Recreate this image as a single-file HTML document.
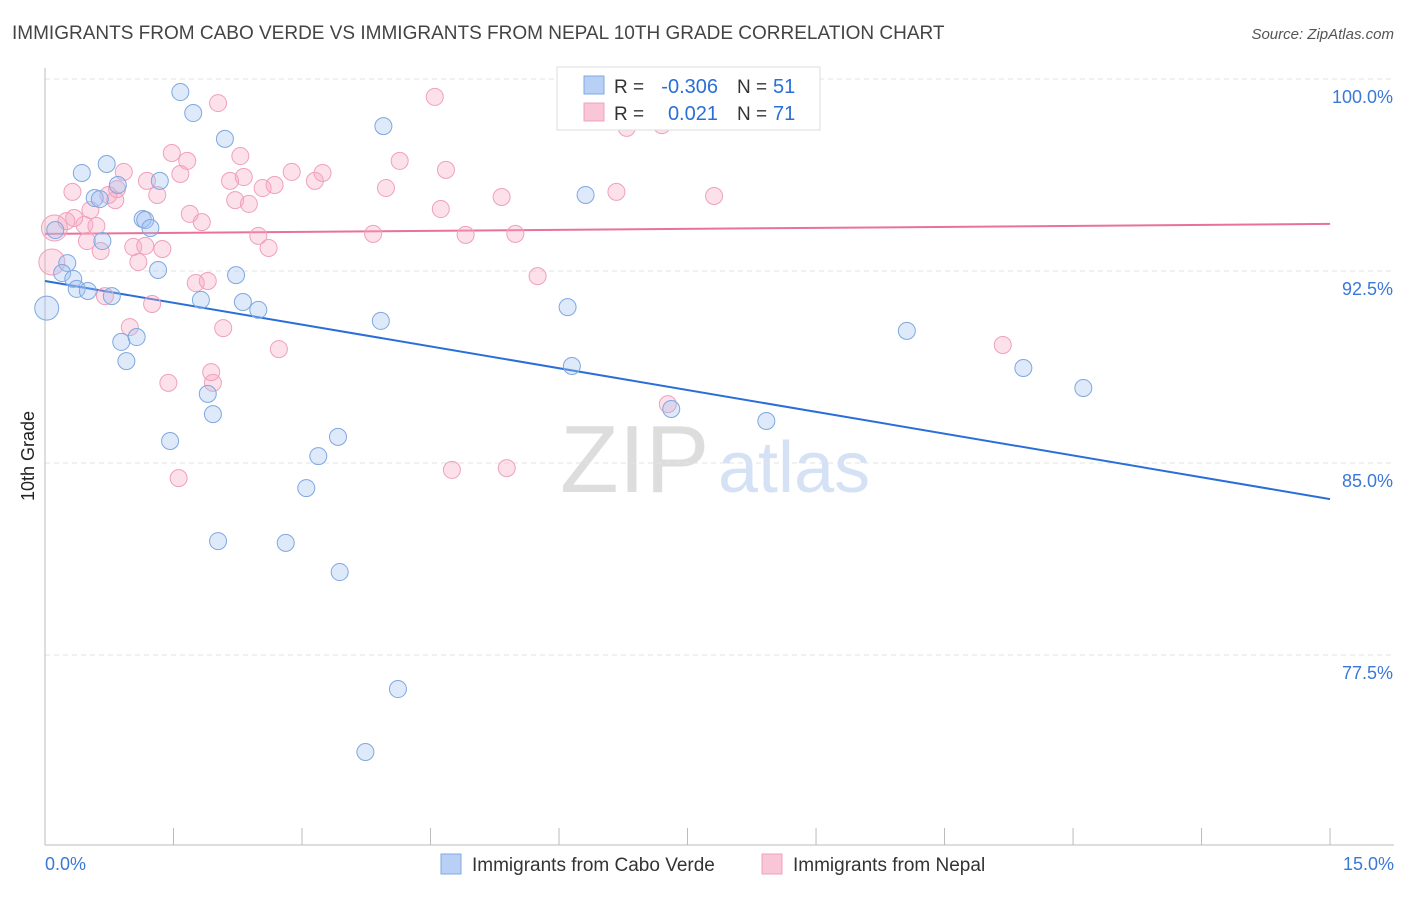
<!DOCTYPE html>
<html><head><meta charset="utf-8">
<style>
body{margin:0;background:#fff;font-family:"Liberation Sans",sans-serif;}
svg text{font-family:"Liberation Sans",sans-serif;}
</style></head>
<body>
<svg id="chart" width="1406" height="892" xmlns="http://www.w3.org/2000/svg">
<text x="12" y="39" font-size="19" fill="#444">IMMIGRANTS FROM CABO VERDE VS IMMIGRANTS FROM NEPAL 10TH GRADE CORRELATION CHART</text>
<text x="1394" y="39" font-size="15" fill="#555" font-style="italic" text-anchor="end">Source: ZipAtlas.com</text>
<text x="34" y="456" font-size="18" fill="#222" transform="rotate(-90 34 456)" text-anchor="middle">10th Grade</text>
<text x="560" y="492" font-size="96" fill="#ddd" font-family="Liberation Serif">ZIP</text>
<text x="718" y="492" font-size="72" fill="#d5e2f5">atlas</text>
<g id="grid"></g><g id="axes"></g><g id="trend"></g><g id="pts"></g>
<g>
<rect x="557" y="67" width="263" height="63" fill="#fff" stroke="#ddd"/>
<rect x="584" y="76" width="20" height="18" fill="#b8d0f5" stroke="#7fa8e0"/>
<rect x="584" y="103" width="20" height="18" fill="#f8c6d6" stroke="#f0a0bc"/>
<text x="614" y="93" font-size="19" fill="#333">R =</text>
<text x="718" y="93" font-size="20" fill="#2a6fd8" text-anchor="end">-0.306</text>
<text x="737" y="93" font-size="19" fill="#333">N =</text>
<text x="773" y="93" font-size="20" fill="#2a6fd8">51</text>
<text x="614" y="120" font-size="19" fill="#333">R =</text>
<text x="718" y="120" font-size="20" fill="#2a6fd8" text-anchor="end">0.021</text>
<text x="737" y="120" font-size="19" fill="#333">N =</text>
<text x="773" y="120" font-size="20" fill="#2a6fd8">71</text>
</g>
<g>
<rect x="441" y="854" width="20" height="20" fill="#b8d0f5" stroke="#7fa8e0"/>
<text x="472" y="871" font-size="19" fill="#333">Immigrants from Cabo Verde</text>
<rect x="762" y="854" width="20" height="20" fill="#f8c6d6" stroke="#f0a0bc"/>
<text x="793" y="871" font-size="19" fill="#333">Immigrants from Nepal</text>
</g>
</svg>
<script>
const yTicks=[100,92.5,85,77.5];
const yTickLabels=["100.0%","92.5%","85.0%","77.5%"];
const xTickLabels=["0.0%","15.0%"];
const blueX=[0.02,1.58,1.73,2.10,3.95,0.43,0.72,0.85,1.34,0.58,1.14,1.17,1.23,0.67,0.12,0.26,0.20,0.33,0.37,0.50,0.78,1.32,2.23,1.82,2.31,2.49,3.92,6.10,6.31,0.89,1.07,0.95,1.90,1.96,1.46,3.42,3.19,3.05,2.02,2.81,3.44,4.12,3.74,6.15,7.31,8.42,10.06,11.42,12.12,0.64];
const blueY=[91.05,99.49,98.67,97.66,98.16,96.33,96.68,95.86,96.02,95.35,94.53,94.49,94.18,93.67,94.10,92.81,92.42,92.19,91.80,91.72,91.52,92.54,92.34,91.37,91.29,90.98,90.55,91.09,95.47,89.73,89.92,88.98,87.70,86.91,85.86,86.02,85.27,84.02,81.95,81.88,80.74,76.17,73.71,88.79,87.11,86.64,90.16,88.71,87.93,95.31];
const pinkX=[0.11,0.08,1.56,4.75,5.39,1.44,1.96,1.94,2.73,2.08,0.99,0.70,1.25,1.76,1.90,5.75,2.61,1.37,1.03,1.17,0.65,1.09,0.49,0.46,0.34,0.25,0.53,0.60,0.82,0.84,0.92,1.19,1.31,1.69,1.83,1.48,1.66,1.58,2.02,2.28,2.16,2.32,2.22,2.38,2.54,2.68,2.88,3.15,3.24,2.49,3.83,3.98,4.14,4.68,4.62,4.91,5.49,5.33,6.67,7.81,4.55,6.20,6.79,7.20,11.18,7.27,0.32,0.74];
const pinkY=[94.18,92.85,84.41,84.73,84.80,88.13,88.13,88.55,89.45,90.27,90.31,91.52,91.21,92.03,92.11,92.30,93.40,93.36,93.44,93.48,93.28,92.85,93.67,94.30,94.57,94.45,94.88,94.26,95.27,95.70,96.37,96.02,95.47,94.73,94.41,97.11,96.80,96.29,99.06,96.99,96.02,96.17,95.27,95.12,95.74,95.86,96.37,96.02,96.33,93.87,93.95,95.74,96.80,96.45,94.92,93.91,93.95,95.39,95.59,95.43,99.30,98.87,98.09,98.20,89.61,87.30,95.59,95.47];
const blueSize=[12].concat(Array(49).fill(8.5));
const pinkSize=[13,13].concat(Array(66).fill(8.5));
const blueTrend=[92.11,83.59];
const pinkTrend=[93.95,94.34];
const NS="http://www.w3.org/2000/svg";
const X=v=>45+v*85.67, Y=v=>79+(100-v)*25.6;
function mk(tag,attrs,parent){const e=document.createElementNS(NS,tag);for(const k in attrs)e.setAttribute(k,attrs[k]);document.getElementById(parent).appendChild(e);return e;}
yTicks.forEach((t,i)=>{
 const l=mk('line',{x1:45,x2:1394,y1:Y(t),y2:Y(t),stroke:'#e3e3e3','stroke-dasharray':'5,4'},'grid');
 
 
 const tx=mk('text',{x:1393,y:Y(t)+24,'font-size':18,fill:'#3a78d8','text-anchor':'end'},'grid');
 tx.textContent=yTickLabels[i];
 
 
});
const ax=mk('line',{x1:45,x2:45,y1:68,y2:845,stroke:'#bbb'},'axes');


const bx=mk('line',{x1:45,x2:1394,y1:845,y2:845,stroke:'#bbb'},'axes');


for(let i=0;i<=10;i++){const t=mk('line',{x1:X(i*1.5),x2:X(i*1.5),y1:828,y2:845,stroke:'#bbb'},'axes');
 
 }
[[0,'start',45],[1,'end',1394]].forEach(([i,a,x])=>{const t=mk('text',{x:x,y:870,'font-size':18,fill:'#3a78d8','text-anchor':a},'axes');t.textContent=xTickLabels[i];
 
 });
const bl=mk('line',{x1:X(0),x2:X(15),y1:Y(blueTrend[0]),y2:Y(blueTrend[1]),stroke:'#2a6fd8','stroke-width':2},'trend');


const pl=mk('line',{x1:X(0),x2:X(15),y1:Y(pinkTrend[0]),y2:Y(pinkTrend[1]),stroke:'#e8729a','stroke-width':2},'trend');


pinkX.forEach((v,i)=>{const c=mk('circle',{cx:X(v),cy:Y(pinkY[i]),r:pinkSize[i],fill:'rgba(246,170,196,0.35)',stroke:'#f0a0bc','stroke-width':1},'pts');
 
 });
blueX.forEach((v,i)=>{const c=mk('circle',{cx:X(v),cy:Y(blueY[i]),r:blueSize[i],fill:'rgba(160,192,242,0.35)',stroke:'#7fa8e0','stroke-width':1},'pts');
 
 });
</script>
</body></html>
